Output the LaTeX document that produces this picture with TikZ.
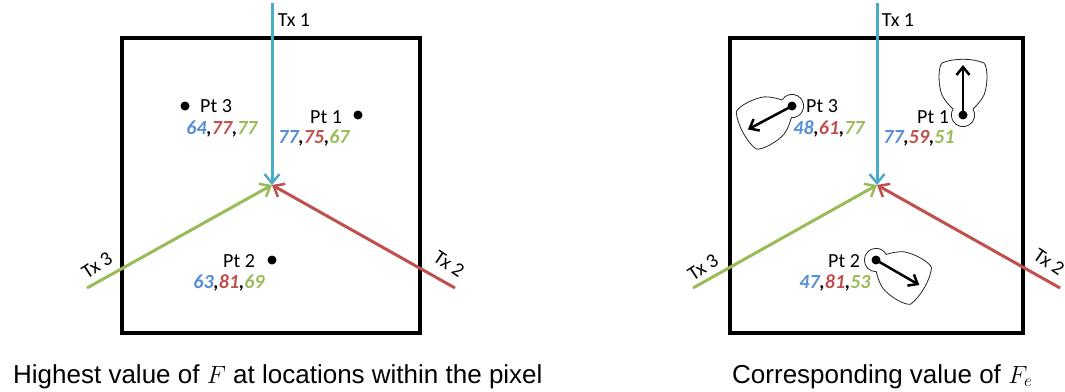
\documentclass[tikz,border=0pt]{standalone}
\usepackage{fontspec}
\setmainfont{Carlito}
\newfontfamily\capfont{Liberation Sans}
\usetikzlibrary{arrows.meta}
\definecolor{txcyan}{HTML}{4BACC6}
\definecolor{numblue}{HTML}{558ED5}
\definecolor{txred}{HTML}{C0504D}
\definecolor{txgreen}{HTML}{9BBB59}
\newcommand{\vals}[3]{\textbf{\textit{\textcolor{numblue}{#1},\textcolor{txred}{#2},\textcolor{txgreen}{#3}}}}
\newcommand{\keyholeshape}[3]{%
  \begin{scope}[shift={(#1)},rotate=#2]
    \draw[blobline] (6,-10) .. controls (10,-14) and (14,-18) .. (20,-21)
      .. controls (30,-25) and (48,-25) .. (52,-21)
      .. controls (57,-10) and (57,10) .. (52,21)
      .. controls (48,25) and (30,25) .. (20,21)
      .. controls (14,18) and (10,14) .. (6,10)
      arc[start angle=59, end angle=301, radius=11.66] -- cycle;
    \coordinate (#3) at (50,0);
  \end{scope}}
\begin{document}
\begin{tikzpicture}[x=1pt,y=-1pt,
  pixelbox/.style={line width=3.5pt},
  ray/.style={line width=3pt,-{Straight Barb[length=9pt,width=15pt,line width=2.5pt]}},
  motion/.style={line width=2.5pt,-{Straight Barb[length=8pt,width=13pt,line width=2.5pt]}},
  blobline/.style={line width=0.8pt,draw=black!85,fill=white},
  dot/.style={circle,fill=black,inner sep=0pt,minimum size=9pt},
  lbl/.style={font=\fontsize{20}{24}\selectfont,inner sep=0pt},
  val/.style={font=\fontsize{20}{24}\selectfont,inner sep=0pt},
  captext/.style={font=\capfont\fontsize{26}{30}\selectfont,inner sep=0pt,anchor=base west}]
\useasboundingbox (0,0) rectangle (1065,391);

% ---------- left panel ----------
\draw[pixelbox] (122,38) rectangle (420,333);
\coordinate (L-c) at (272,185);
\coordinate (L-t1) at (272,3);
\coordinate (L-t2) at (455,288);
\coordinate (L-t3) at (87,288);
\draw[ray,txcyan] (L-t1) -- (L-c);
\draw[ray,txred] (L-t2) -- (L-c);
\draw[ray,txgreen] (L-t3) -- (L-c);
\node[lbl] (L-tx1) at (294,20) {Tx 1};
\node[lbl,rotate=33] (L-tx3) at (97,265) {Tx 3};
\node[lbl,rotate=-34] (L-tx2) at (449,264) {Tx 2};

\node[dot] (L-p3) at (185,106) {};
\node[lbl] (L-p3t) at (216,106) {Pt 3};
\node[val] (L-p3v) at (222,129) {\vals{64}{77}{77}};
\node[dot] (L-p1) at (358,115) {};
\node[lbl] (L-p1t) at (326,117) {Pt 1};
\node[val] (L-p1v) at (314,138) {\vals{77}{75}{67}};
\node[dot] (L-p2) at (272,260) {};
\node[lbl] (L-p2t) at (239,261) {Pt 2};
\node[val] (L-p2v) at (229,283) {\vals{63}{81}{69}};

\node[captext] (L-cap) at (13,383) {Highest value of $F$ at locations within the pixel};

% ---------- right panel ----------
\draw[pixelbox] (730,38) rectangle (1023,333);
\coordinate (R-c) at (877,185);
\coordinate (R-t1) at (877,3);
\coordinate (R-t2) at (1060,288);
\coordinate (R-t3) at (693,288);
\draw[ray,txcyan] (R-t1) -- (R-c);
\draw[ray,txred] (R-t2) -- (R-c);
\draw[ray,txgreen] (R-t3) -- (R-c);
\node[lbl] (R-tx1) at (898,20) {Tx 1};
\node[lbl,rotate=33] (R-tx3) at (703,267) {Tx 3};
\node[lbl,rotate=-34] (R-tx2) at (1049,262) {Tx 2};

\coordinate (R-p3c) at (792,106);
\coordinate (R-p1c) at (963,115);
\coordinate (R-p2c) at (876,260);
\keyholeshape{R-p3c}{208}{R-a3}
\keyholeshape{R-p1c}{90}{R-a1}
\keyholeshape{R-p2c}{-30}{R-a2}
\node[dot] (R-p3) at (R-p3c) {};
\node[dot] (R-p1) at (R-p1c) {};
\node[dot] (R-p2) at (R-p2c) {};
\draw[motion] (R-p3.center) -- (R-a3);
\draw[motion] (R-p1.center) -- (R-a1);
\draw[motion] (R-p2.center) -- (R-a2);

\node[lbl] (R-p3t) at (822,106) {Pt 3};
\node[val] (R-p3v) at (829,129) {\vals{48}{61}{77}};
\node[lbl] (R-p1t) at (933,117) {Pt 1};
\node[val] (R-p1v) at (919,138) {\vals{77}{59}{51}};
\node[lbl] (R-p2t) at (844,261) {Pt 2};
\node[val] (R-p2v) at (835,283) {\vals{47}{81}{53}};

\node[captext] (R-cap) at (732,383) {Corresponding value of $F_e$};
\end{tikzpicture}
\end{document}
